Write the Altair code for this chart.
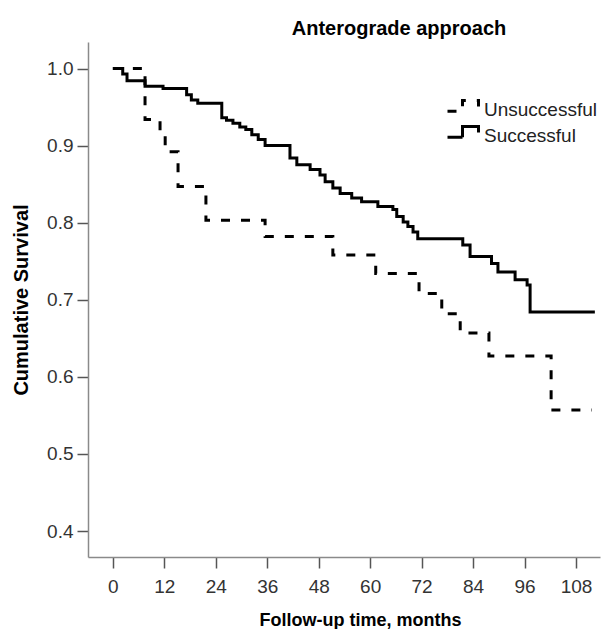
import altair as alt
import pandas as pd

# Kaplan-Meier step curves (months, cumulative survival)
succ_t = [0, 2.3, 3.3, 7.5, 11.7, 17.2, 18.3, 19.8, 25.4, 26.5, 28.0, 29.6, 31.0, 32.4, 33.9,
          35.5, 41.3, 42.9, 46.0, 48.3, 49.5, 51.3, 53.0, 55.7, 58.0, 61.8, 65.3, 66.2, 67.7,
          68.8, 70.0, 71.1, 81.6, 83.3, 88.3, 89.8, 93.8, 96.6, 97.3, 112.4]
succ_s = [1.0, 0.993, 0.984, 0.977, 0.974, 0.966, 0.959, 0.955, 0.936, 0.933, 0.929, 0.924, 0.921,
          0.914, 0.908, 0.900, 0.884, 0.875, 0.869, 0.862, 0.853, 0.845, 0.838, 0.832, 0.827,
          0.821, 0.817, 0.808, 0.801, 0.795, 0.788, 0.779, 0.771, 0.756, 0.747, 0.736, 0.726,
          0.719, 0.684, 0.684]

unsucc_t = [0, 7.5, 11.0, 12.2, 15.2, 21.7, 35.5, 51.3, 61.3, 71.4, 76.7, 81.0, 87.7, 102.2, 111.7]
unsucc_s = [1.0, 0.934, 0.913, 0.892, 0.847, 0.803, 0.782, 0.758, 0.734, 0.708, 0.682, 0.657,
            0.627, 0.557, 0.557]

groups = ["Unsuccessful", "Successful"]
x_ticks = [0, 12, 24, 36, 48, 60, 72, 84, 96, 108]
y_ticks = [0.4, 0.5, 0.6, 0.7, 0.8, 0.9, 1.0]

rows = []
for i, (t, s) in enumerate(zip(unsucc_t, unsucc_s)):
    rows.append({"time": t, "surv": s, "group": groups[0], "order": i})
for i, (t, s) in enumerate(zip(succ_t, succ_s)):
    rows.append({"time": t, "surv": s, "group": groups[1], "order": i})
df = pd.DataFrame(rows)

FONT = "Liberation Sans"
step_glyph = "M-2.0,0.17 L-0.5,0.17 L-0.5,-0.9 L1.1,-0.9 L1.1,-0.3"

chart = (
    alt.Chart(df)
    .mark_line(interpolate="step-after", color="black", strokeWidth=3, strokeCap="butt")
    .encode(
        x=alt.X(
            "time:Q",
            scale=alt.Scale(domain=[-5.8, 113.6], nice=False, zero=False),
            axis=alt.Axis(
                values=x_ticks,
                title="Follow-up time, months",
                titleX=272,
                titleAlign="center",
                titleFontSize=18,
                tickSize=11,
                labelPadding=9,
                titlePadding=15,
            ),
        ),
        y=alt.Y(
            "surv:Q",
            scale=alt.Scale(domain=[0.3663, 1.0344], nice=False, zero=False),
            axis=alt.Axis(
                values=y_ticks,
                format=".1f",
                title="Cumulative Survival",
                titleFontSize=20,
                tickSize=11,
                labelPadding=4,
                titlePadding=15,
            ),
        ),
        strokeDash=alt.StrokeDash(
            "group:N",
            scale=alt.Scale(domain=groups, range=[[9, 11], [1, 0]]),
            legend=alt.Legend(
                title=None,
                orient="none",
                legendX=368,
                legendY=56,
                padding=0,
                symbolType=step_glyph,
                symbolSize=400,
                symbolStrokeWidth=3,
                symbolStrokeColor="black",
                symbolFillColor="transparent",
                labelFontSize=19,
                labelFont=FONT,
                labelColor="#222222",
                labelOffset=5,
                rowPadding=0,
            ),
        ),
        order="order:Q",
    )
    .properties(
        width=512,
        height=515,
        padding={"left": 88, "top": 42, "right": 3, "bottom": 72},
        autosize=alt.AutoSizeParams(type="none"),
        title=alt.TitleParams(
            "Anterograde approach",
            font=FONT,
            fontSize=20,
            fontWeight="bold",
            color="black",
            dx=55,
            offset=3,
        ),
    )
    .configure_view(stroke=None)
    .configure_axis(
        grid=False,
        domainColor="#8a8a8a",
        domainWidth=1.5,
        tickColor="#555555",
        tickWidth=1.5,
        labelFont=FONT,
        labelFontSize=19,
        labelColor="#333333",
        titleFont=FONT,
        titleFontWeight="bold",
        titleColor="black",
    )
)

chart.save("out.html", embed_options={"renderer": "svg", "actions": False})
